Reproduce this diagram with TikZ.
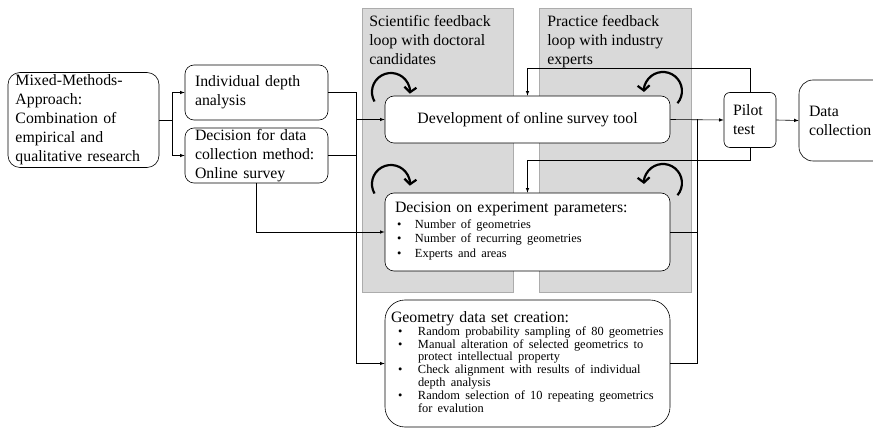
\documentclass[tikz,border=0pt]{standalone}
\usepackage{fontspec}
\setmainfont{Liberation Serif}
\usetikzlibrary{arrows,arrows.meta,positioning}

\newcommand{\boxfont}{\fontsize{15.8}{19}\selectfont}
\newcommand{\itemfont}{\fontsize{12.4}{13.6}\selectfont}

\begin{document}
\begin{tikzpicture}[x=1pt,y=-1pt,line width=0.6pt,>=latex,
    box/.style={draw,rounded corners=9pt,fill=white,font=\boxfont,align=left,inner ysep=0pt},
    panel/.style={draw=gray!65,fill=gray!30,line width=0.8pt},
    lbl/.style={font=\boxfont,align=left,inner sep=0pt,anchor=north west},
    loopy/.style={line width=2.2pt,-{Straight Barb[length=5pt,width=12pt]}}]
    % \draw[help lines] (0,0) grid[step=50] (873,430);
    \useasboundingbox (0,0) rectangle (873,430);
    % feedback panels
    \node[panel,minimum width=151pt,minimum height=284pt] (sci)  at (437.5,150) {};
    \node[panel,minimum width=152pt,minimum height=284pt] (prac) at (615,150) {};
    \node[lbl] (scitxt)  at (369,15) {Scientific feedback\\loop with doctoral\\candidates};
    \node[lbl] (practxt) at (547,15) {Practice feedback\\loop with industry\\experts};
    % boxes
    \node[box,text width=136pt,minimum height=95pt,inner xsep=7.5pt,rounded corners=12pt] (mixed) at (83.5,120)
        {Mixed-Methods-\\Approach:\\Combination of\\empirical and\\qualitative research};
    \node[box,text width=123pt,minimum height=55pt,inner xsep=10pt] (depth)  at (256.5,92.5)  {Individual depth\\analysis};
    \node[box,text width=123pt,minimum height=55pt,inner xsep=10pt] (method) at (256.5,155.5) {Decision for data\\collection method:\\Online survey};
    \node[box,minimum width=285pt,minimum height=47pt,align=center] (dev) at (527.5,119.5) {Development of online survey tool};
    \node[box,text width=265pt,minimum height=78pt,inner xsep=10pt] (exp) at (527.5,232)
        {Decision on experiment parameters:\par\vspace{1pt}
         {\itemfont\renewcommand{\arraystretch}{1.07}%
         \begin{tabular}{@{\hspace{2pt}}p{18pt}@{}l@{}}
         \textbullet & Number of geometries\\
         \textbullet & Number of recurring geometries\\
         \textbullet & Experts and areas
         \end{tabular}}};
    \node[box,text width=273pt,minimum height=127pt,inner xsep=6pt,rounded corners=20pt] (geo) at (527.5,363.5)
        {Geometry data set creation:\par
         {\itemfont\renewcommand{\arraystretch}{0.94}%
         \begin{tabular}{@{\hspace{7pt}}p{20pt}@{}l@{}}
         \textbullet & Random probability sampling of 80 geometries\\
         \textbullet & Manual alteration of selected geometrics to\\
                     & protect intellectual property\\
         \textbullet & Check alignment with results of individual\\
                     & depth analysis\\
         \textbullet & Random selection of 10 repeating geometrics\\
                     & for evalution
         \end{tabular}}};
    \node[box,text width=34pt,minimum height=55pt,inner xsep=9pt,rounded corners=6pt] (pilot) at (750,120) {Pilot\\test};
    \node[box,text width=80pt,minimum height=81pt,inner xsep=10pt,rounded corners=14pt] (data) at (849,120.5) {Data\\collection};
    % bus points
    \coordinate (split) at (172,120);
    \coordinate (lbus)  at (356,0);
    \coordinate (rbus)  at (697,0);
    \coordinate (fbtop) at (527.5,68);
    \coordinate (fbmid) at (527.5,160);
    % connectors
    \draw (mixed.east) -- (split);
    \draw[->] (split) |- (depth.west);
    \draw[->] (split) |- (method.west);
    \draw[->] (depth.east) -| (lbus |- geo.west) -- (geo.west);
    \draw (method.east) -- (method.east -| lbus);
    \draw[->] (lbus |- dev.west) -- (dev.west);
    \draw[->] (method.south) |- (exp.west);
    \draw[->] (dev.east) -- (pilot.west);
    \draw (geo.east) -| (rbus |- dev.east);
    \draw (exp.east) -- (exp.east -| rbus);
    \draw[->] (pilot.east) -- (data.west);
    \draw[->] (pilot.north) |- (fbtop) -- (dev.north);
    \draw[->] (pilot.south) |- (fbmid) -- (exp.north);
    % feedback loops
    \draw[loopy] (374.5,101.5) arc[start angle=150,end angle=365,radius=19];
    \draw[loopy] (677.5,103.2) arc[start angle=40,end angle=-183,radius=19];
    \draw[loopy] (374.5,193.5) arc[start angle=150,end angle=365,radius=19];
    \draw[loopy] (677.5,195.2) arc[start angle=40,end angle=-183,radius=19];
\end{tikzpicture}
\end{document}
